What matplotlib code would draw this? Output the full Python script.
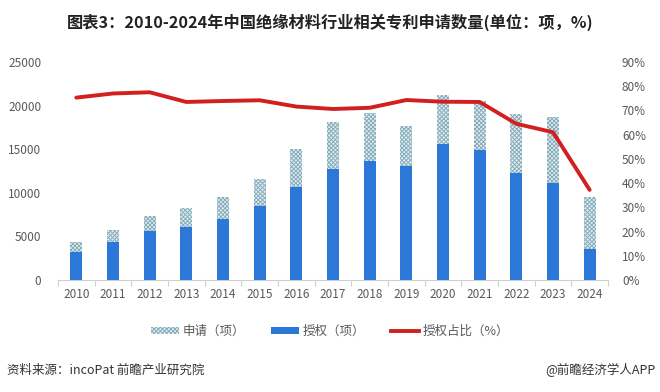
import matplotlib
matplotlib.use("Agg")
import matplotlib.pyplot as plt
import matplotlib.ticker as mticker
from matplotlib.patches import Patch
from matplotlib.lines import Line2D

plt.rcParams['font.family'] = ['Noto Sans CJK SC', 'DejaVu Sans']
plt.rcParams['hatch.linewidth'] = 0.7

years = ['2010', '2011', '2012', '2013', '2014', '2015', '2016', '2017',
         '2018', '2019', '2020', '2021', '2022', '2023', '2024']
applications = [4400, 5700, 7300, 8300, 9500, 11600, 15000, 18100,
                19200, 17700, 21200, 20500, 19000, 18700, 9500]
grants = [3200, 4400, 5600, 6100, 7000, 8500, 10700, 12700,
          13600, 13100, 15600, 14900, 12300, 11100, 3600]
grant_ratio = [75.3, 77.0, 77.5, 73.5, 73.9, 74.2, 71.6, 70.6,
               71.1, 74.3, 73.6, 73.5, 64.5, 61.0, 37.2]

title = '图表3：2010-2024年中国绝缘材料行业相关专利申请数量(单位：项，%)'
legend_labels = ['申请（项）', '授权（项）', '授权占比（%）']
source = '资料来源：incoPat 前瞻产业研究院'
credit = '@前瞻经济学人APP'

blue = '#2b78d9'
hatch_col = '#86adbc'
hatch_face = '#e4eef1'
red = '#d21f1f'
txt = '#595959'

fig = plt.figure(figsize=(6.6, 3.92), dpi=100)
ax = fig.add_axes([58/660, 1-280/392, 550/660, 218/392])
x = list(range(len(years)))
w = 0.33

ax.bar(x, applications, width=w, facecolor=hatch_face, edgecolor=hatch_col,
       hatch='xxxxxxxx', linewidth=0, zorder=2)
ax.bar(x, grants, width=w, color=blue, linewidth=0, zorder=3)

ax.set_xlim(-0.5, len(years) - 0.5)
ax.set_ylim(0, 25000)
ax.yaxis.set_major_locator(mticker.MultipleLocator(5000))
ax.set_xticks(x)
ax.set_xticklabels(years)
ax.set_xticks([i + 0.5 for i in range(-1, len(years))], minor=True)
ax.tick_params(axis='x', which='major', length=0, pad=6, labelsize=8.5, labelcolor=txt)
ax.tick_params(axis='x', which='minor', length=4, color='#d0d0d0', width=0.8)
ax.tick_params(axis='y', length=0, pad=12, labelsize=8.5, labelcolor=txt)
for s in ['top', 'right', 'left']:
    ax.spines[s].set_visible(False)
ax.spines['bottom'].set_color('#d0d0d0')
ax.spines['bottom'].set_linewidth(0.8)

ax2 = ax.twinx()
ax2.plot(x, grant_ratio, color=red, linewidth=2.8, solid_joinstyle='round',
         solid_capstyle='round', zorder=4)
ax2.set_ylim(0, 90)
ax2.yaxis.set_major_locator(mticker.MultipleLocator(10))
ax2.yaxis.set_major_formatter(mticker.FuncFormatter(lambda v, p: f'{int(round(v))}%'))
ax2.tick_params(axis='y', length=0, pad=10, labelsize=8.5, labelcolor=txt)
for s in ['top', 'right', 'left', 'bottom']:
    ax2.spines[s].set_visible(False)

fig.text(0.5, 1 - 22/392, title, ha='center', va='center', fontsize=11.7,
         fontweight='bold', color='#222222')

handles = [Patch(facecolor=hatch_face, edgecolor=hatch_col, hatch='xxxxxxxx', linewidth=0),
           Patch(facecolor=blue, linewidth=0),
           Line2D([0], [0], color=red, linewidth=2.8)]
fig.legend(handles, legend_labels, loc='center', bbox_to_anchor=(0.5, 1 - 331/392),
           ncol=3, frameon=False, fontsize=9, labelcolor=txt, handlelength=2.3,
           handleheight=0.5, columnspacing=2.0, handletextpad=0.3)

fig.text(7/660, 1 - 370/392, source, ha='left', va='center', fontsize=9, color='#333333')
fig.text(655/660, 1 - 370/392, credit, ha='right', va='center', fontsize=9, color='#333333')

fig.savefig('out.png', dpi=100)
